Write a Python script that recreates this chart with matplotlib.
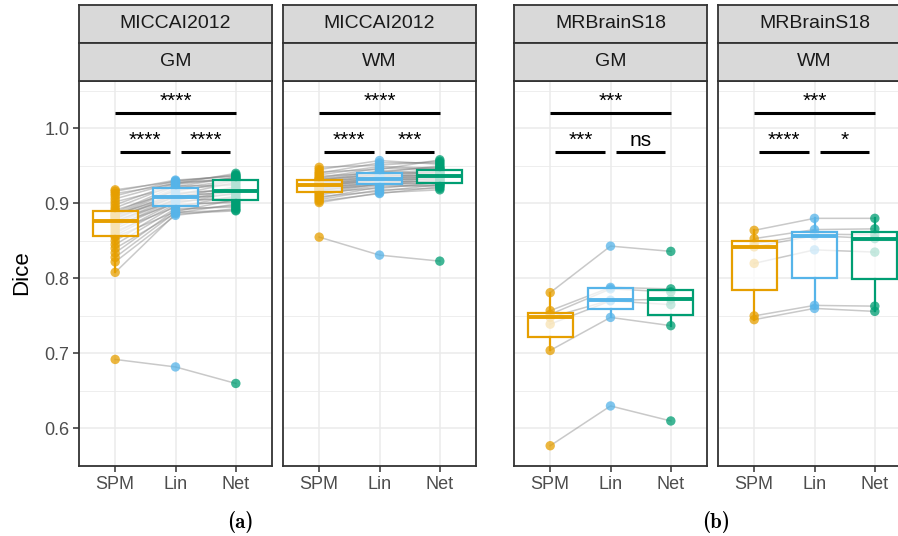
import matplotlib
matplotlib.use('Agg')
import matplotlib.pyplot as plt

plt.rcParams['font.family'] = ['Liberation Sans', 'DejaVu Sans']
plt.rcParams['mathtext.fontset'] = 'cm'
plt.rcParams['axes.unicode_minus'] = False

# ---------------- data ----------------
methods = ['SPM', 'Lin', 'Net']
colors = ['#E69F00', '#56B4E9', '#009E73']
datasets = ['MICCAI2012', 'MICCAI2012', 'MRBrainS18', 'MRBrainS18']
tissues = ['GM', 'WM', 'GM', 'WM']

miccai_gm_spm = [0.918, 0.916, 0.913, 0.910, 0.906, 0.902, 0.898, 0.894, 0.891, 0.888,
                 0.886, 0.885, 0.884, 0.883, 0.882, 0.880, 0.879, 0.877, 0.875, 0.873,
                 0.871, 0.869, 0.866, 0.863, 0.860, 0.857, 0.855, 0.850, 0.845, 0.840,
                 0.834, 0.828, 0.822, 0.808, 0.692]
miccai_gm_lin = [0.929, 0.931, 0.926, 0.930, 0.928, 0.922, 0.927, 0.925, 0.916, 0.923,
                 0.920, 0.911, 0.918, 0.914, 0.908, 0.912, 0.910, 0.904, 0.909, 0.906,
                 0.900, 0.905, 0.903, 0.895, 0.902, 0.899, 0.889, 0.897, 0.893, 0.887,
                 0.891, 0.888, 0.884, 0.886, 0.682]
miccai_gm_net = [0.938, 0.936, 0.940, 0.937, 0.933, 0.935, 0.932, 0.934, 0.930, 0.924,
                 0.931, 0.928, 0.926, 0.918, 0.922, 0.920, 0.915, 0.917, 0.916, 0.912,
                 0.914, 0.913, 0.907, 0.910, 0.908, 0.901, 0.905, 0.903, 0.895, 0.899,
                 0.897, 0.891, 0.893, 0.890, 0.660]

miccai_wm_spm = [0.948, 0.945, 0.942, 0.940, 0.938, 0.936, 0.934, 0.933, 0.932, 0.931,
                 0.930, 0.929, 0.928, 0.927, 0.926, 0.925, 0.924, 0.924, 0.923, 0.922,
                 0.921, 0.920, 0.919, 0.918, 0.917, 0.916, 0.915, 0.913, 0.911, 0.909,
                 0.907, 0.905, 0.903, 0.901, 0.855]
miccai_wm_lin = [0.951, 0.957, 0.945, 0.954, 0.949, 0.941, 0.947, 0.943, 0.938, 0.942,
                 0.940, 0.935, 0.939, 0.937, 0.933, 0.936, 0.934, 0.930, 0.933, 0.932,
                 0.927, 0.931, 0.929, 0.925, 0.928, 0.926, 0.920, 0.926, 0.924, 0.916,
                 0.922, 0.918, 0.913, 0.914, 0.831]
miccai_wm_net = [0.956, 0.952, 0.958, 0.954, 0.947, 0.950, 0.946, 0.948, 0.943, 0.940,
                 0.945, 0.942, 0.941, 0.937, 0.939, 0.938, 0.935, 0.936, 0.936, 0.932,
                 0.934, 0.933, 0.929, 0.931, 0.930, 0.926, 0.928, 0.927, 0.923, 0.925,
                 0.924, 0.920, 0.922, 0.918, 0.823]

mrb_gm_spm = [0.577, 0.781, 0.704, 0.757, 0.752, 0.748, 0.739]
mrb_gm_lin = [0.630, 0.843, 0.748, 0.788, 0.786, 0.771, 0.770]
mrb_gm_net = [0.610, 0.836, 0.737, 0.786, 0.782, 0.772, 0.765]

mrb_wm_spm = [0.864, 0.853, 0.846, 0.842, 0.820, 0.750, 0.745]
mrb_wm_lin = [0.880, 0.865, 0.859, 0.857, 0.838, 0.764, 0.760]
mrb_wm_net = [0.880, 0.866, 0.858, 0.853, 0.835, 0.763, 0.756]

# significance labels: (SPM-Lin, Lin-Net, SPM-Net)
sig_labels = [('****', '****', '****'),
              ('****', '***', '****'),
              ('***', 'ns', '***'),
              ('****', '*', '***')]

y_ticks = [0.6, 0.7, 0.8, 0.9, 1.0]
y_minor = [0.55, 0.65, 0.75, 0.85, 0.95, 1.05]

panels = [
    (miccai_gm_spm, miccai_gm_lin, miccai_gm_net),
    (miccai_wm_spm, miccai_wm_lin, miccai_wm_net),
    (mrb_gm_spm, mrb_gm_lin, mrb_gm_net),
    (mrb_wm_spm, mrb_wm_lin, mrb_wm_net),
]

# ---------------- layout ----------------
W, H = 898, 536
fig = plt.figure(figsize=(W / 100, H / 100), dpi=100)


def rect(x0, y0, x1, y1):
    return [x0 / W, 1 - y1 / H, (x1 - x0) / W, (y1 - y0) / H]


lefts = [79, 283, 514, 718]
pw = 193
top_strip1, top_strip2, top_plot, bottom_plot = 5, 43, 81, 466
border = '#333333'
YMIN, YMAX = 0.553, 1.063
px_per_unit = (bottom_plot - top_plot) / (YMAX - YMIN)

for k, (x0, data, labs) in enumerate(zip(lefts, panels, sig_labels)):
    ax = fig.add_axes(rect(x0, top_plot, x0 + pw, bottom_plot))
    ax.set_xlim(-0.6, 2.6)
    ax.set_ylim(YMIN, YMAX)
    ax.set_xticks([0, 1, 2])
    ax.set_xticklabels(methods)
    ax.set_yticks(y_ticks)
    ax.set_yticks(y_minor, minor=True)
    ax.grid(True, which='major', color='#EBEBEB', lw=1.1, zorder=0)
    ax.grid(True, which='minor', axis='y', color='#EBEBEB', lw=0.6, zorder=0)
    ax.set_axisbelow(True)
    for s in ax.spines.values():
        s.set_color(border)
        s.set_linewidth(1.3)
        s.set_zorder(10)
    ax.tick_params(axis='x', colors=border, labelcolor='#4D4D4D', labelsize=13,
                   length=4, width=1.1, pad=3)
    ax.tick_params(axis='y', which='minor', length=0)
    if k == 0:
        ax.tick_params(axis='y', which='major', colors=border, labelcolor='#4D4D4D',
                       labelsize=13, length=4, width=1.1, pad=3)
        ax.yaxis.set_major_formatter(plt.FuncFormatter(lambda v, p: f'{v:.1f}'))
    else:
        ax.tick_params(axis='y', which='major', length=0, labelleft=False)

    spm, lin, net = data
    # paired lines
    for a, b, c in zip(spm, lin, net):
        ax.plot([0, 1, 2], [a, b, c], color='#7F7F7F', alpha=0.42, lw=1.1, zorder=1)
    # points
    for i, vals in enumerate(data):
        ax.scatter([i] * len(vals), vals, s=46, color=colors[i], alpha=0.75,
                   edgecolors='none', zorder=2)
    # boxes
    bp = ax.boxplot(list(data), positions=[0, 1, 2], widths=0.75, whis=1.5,
                    showfliers=False, showcaps=False, patch_artist=True,
                    manage_ticks=False, zorder=3)
    for i in range(3):
        bp['boxes'][i].set_facecolor((1, 1, 1, 0.7))
        bp['boxes'][i].set_edgecolor(colors[i])
        bp['boxes'][i].set_linewidth(1.6)
        bp['medians'][i].set_color(colors[i])
        bp['medians'][i].set_linewidth(2.8)
        bp['medians'][i].set_solid_capstyle('butt')
        for w in bp['whiskers'][2 * i:2 * i + 2]:
            w.set_color(colors[i])
            w.set_linewidth(1.6)

    # significance brackets
    off = 6 / px_per_unit
    y_low, y_high = 0.969, 1.021
    ax.plot([0.08, 0.91], [y_low, y_low], color='black', lw=2.2, zorder=5,
            solid_capstyle='butt')
    ax.plot([1.09, 1.91], [y_low, y_low], color='black', lw=2.2, zorder=5,
            solid_capstyle='butt')
    ax.plot([-0.01, 2.0], [y_high, y_high], color='black', lw=2.2, zorder=5,
            solid_capstyle='butt')
    ax.text(0.5, y_low + off, labs[0], ha='center', va='baseline', fontsize=15,
            color='black', zorder=6)
    ax.text(1.5, y_low + off, labs[1], ha='center', va='baseline', fontsize=15,
            color='black', zorder=6)
    ax.text(1.0, y_high + off, labs[2], ha='center', va='baseline', fontsize=15,
            color='black', zorder=6)

    # strips
    for (ya, yb, txt) in [(top_strip1, top_strip2, datasets[k]),
                          (top_strip2, top_plot, tissues[k])]:
        sa = fig.add_axes(rect(x0, ya, x0 + pw, yb))
        sa.set_facecolor('#D9D9D9')
        sa.set_xticks([])
        sa.set_yticks([])
        for s in sa.spines.values():
            s.set_color(border)
            s.set_linewidth(1.3)
        sa.text(0.5, 0.5, txt, ha='center', va='center', fontsize=14,
                color='#1A1A1A', transform=sa.transAxes)

fig.text(22 / W, 1 - 273 / H, 'Dice', rotation=90, ha='center', va='center',
         fontsize=16, color='black')
fig.text(240 / W, 1 - 522 / H, '(a)', ha='center', va='center', fontsize=15,
         family=['cmb10', 'DejaVu Serif'], fontweight='bold')
fig.text(716 / W, 1 - 522 / H, '(b)', ha='center', va='center', fontsize=15,
         family=['cmb10', 'DejaVu Serif'], fontweight='bold')

fig.savefig('out.png', dpi=100)
